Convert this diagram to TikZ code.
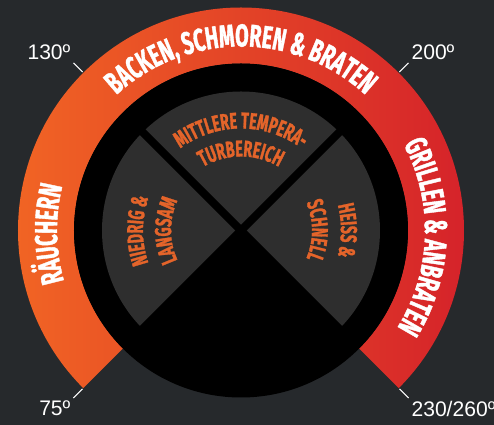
\documentclass[tikz,border=0pt]{standalone}
\usepackage{fontspec}
\newfontfamily\labelfont{Liberation Sans}
\newfontfamily\bandfont[FakeStretch=0.62, FakeBold=1.2]{Fira Sans}
\usetikzlibrary{decorations.text}
\definecolor{BgDark}{HTML}{26292C}
\definecolor{RingOrange}{HTML}{F26724}
\definecolor{RingRed}{HTML}{D4202A}
\definecolor{SectorGray}{HTML}{2E2E2E}
\definecolor{SectorText}{HTML}{E4642A}

\newcommand{\bandtext}{\bandfont\bfseries\fontsize{18}{18}\selectfont}
\newcommand{\sectortext}{\bandfont\bfseries\fontsize{13}{13}\selectfont}

\begin{document}
\begin{tikzpicture}[
    x=0.02cm, y=0.02cm, % one unit = one pixel of the reference
    % Reusable styles
    ring band/.style={left color=RingOrange, right color=RingRed, draw=none},
    gap line/.style={draw=black, line width=4.5pt},
    tick line/.style={draw=white, line width=0.6pt},
    temp label/.style={font=\labelfont\fontsize{12}{14}\selectfont, text=white, inner sep=1.5pt},
    ring text/.style={decorate, decoration={text along path, text align=center,
        text color=white, text={|\bandtext|#1}}},
    sector text/.style={decorate, decoration={text along path, text align=center,
        text color=SectorText, text={|\sectortext|#1}}}
]

    % Canvas
    \fill[BgDark] (-241,-194.5) rectangle (253,230.5);
    \useasboundingbox (-241,-194.5) rectangle (253,230.5);

    % Outer temperature band (open at the bottom)
    \shade[ring band] (225:167) arc[start angle=225, end angle=-45, radius=167]
        -- (-45:223) arc[start angle=-45, end angle=225, radius=223] -- cycle;

    % Black dial
    \fill[black] (0,0) circle (167);

    % Three sectors (left, top, right), split by black gaps
    \fill[SectorGray] (0,0) -- (-45:139) arc[start angle=-45, end angle=225, radius=139] -- cycle;
    \draw[gap line] (135:150) -- (-45:150);
    \draw[gap line] (45:150) -- (225:150);

    % Band labels
    \path[ring text={RÄUCHERN}] (226:184) arc[start angle=226, end angle=136, radius=184];
    \path[ring text={BACKEN, SCHMOREN {\&} BRATEN}] (150:184) arc[start angle=150, end angle=30, radius=184];
    \path[ring text={GRILLEN {\&} ANBRATEN}] (44:184) arc[start angle=44, end angle=-48, radius=184];

    % Sector labels
    \path[sector text={MITTLERE TEMPERA-}] (135:102) arc[start angle=135, end angle=45, radius=102];
    \path[sector text={TURBEREICH}] (135:74) arc[start angle=135, end angle=45, radius=74];
    \path[sector text={NIEDRIG {\&}}] (225:98) arc[start angle=225, end angle=135, radius=98];
    \path[sector text={LANGSAM}] (225:70) arc[start angle=225, end angle=135, radius=70];
    \path[sector text={HEISS {\&}}] (45:100) arc[start angle=45, end angle=-45, radius=100];
    \path[sector text={SCHNELL}] (45:71) arc[start angle=45, end angle=-45, radius=71];

    % Temperature marks
    \coordinate (t75) at (225:224);
    \coordinate (t130) at (135:224);
    \coordinate (t200) at (45:224);
    \coordinate (t230) at (-45:224);
    \node[temp label, anchor=north east] (l75) at (225:237) {75º};
    \node[temp label, anchor=south east] (l130) at (135:237) {130º};
    \node[temp label, anchor=south west] (l200) at (45:237) {200º};
    \node[temp label, anchor=north west] (l230) at (-45:237) {230/260º};
    \draw[tick line] (t75) -- (l75.north east);
    \draw[tick line] (t130) -- (l130.south east);
    \draw[tick line] (t200) -- (l200.south west);
    \draw[tick line] (t230) -- (l230.north west);

\end{tikzpicture}
\end{document}
